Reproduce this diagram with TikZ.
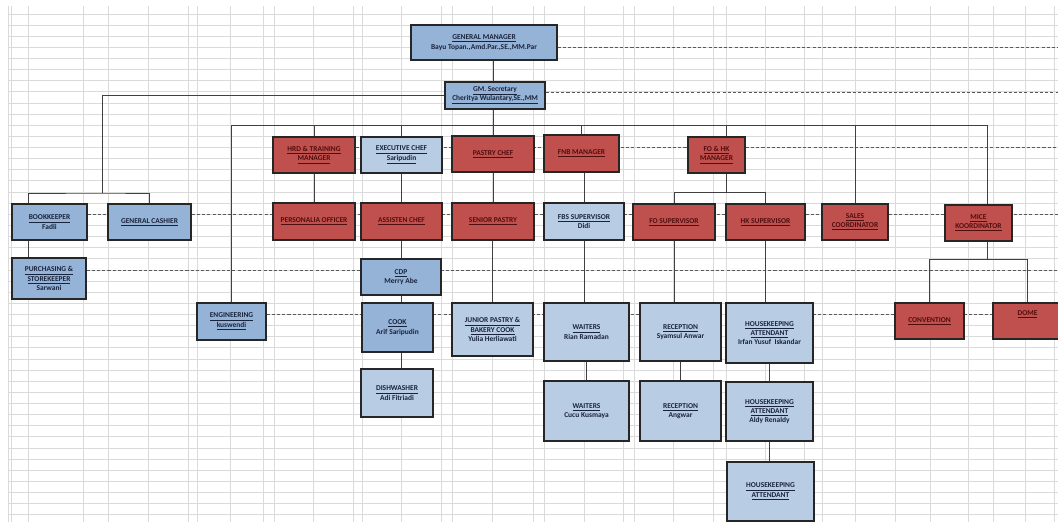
\documentclass[tikz,border=0pt]{standalone}
\usepackage{fontspec}
\setmainfont{Carlito}
\usetikzlibrary{calc}
\pgfdeclarelayer{background}
\pgfsetlayers{background,main}
\definecolor{medblue}{RGB}{149,179,215}
\definecolor{lightblue}{RGB}{184,204,228}
\definecolor{redfill}{RGB}{192,80,77}
\definecolor{redtext}{RGB}{80,14,14}
\definecolor{bluetext}{RGB}{25,35,60}
\definecolor{gridc}{RGB}{218,218,218}

\begin{document}
\begin{tikzpicture}[x=0.025cm, y=-0.025cm,
    box/.style={draw=black!85, line width=0.9pt, inner sep=0pt, align=center,
        font=\fontsize{5.3}{6.6}\selectfont\bfseries},
    mblue/.style={box, fill=medblue, text=bluetext},
    lblue/.style={box, fill=lightblue, text=bluetext},
    rbox/.style={box, fill=redfill, text=redtext},
    sz/.style 2 args={minimum width=#1*0.025cm, minimum height=#2*0.025cm},
    link/.style={draw=black!75, line width=0.7pt},
    dashline/.style={draw=black!65, line width=0.6pt, dash pattern=on 2.2pt off 1.5pt},
    gridline/.style={draw=gridc, line width=0.7pt}]
    \useasboundingbox (0,0) rectangle (1058,522);
    \clip (0,0) rectangle (1058,522);
    \coordinate (rim) at (1058,0);

    \node[mblue, sz={146}{35}] (gm) at (484,42.5) {\underline{GENERAL MANAGER}\\Bayu Topan.,Amd.Par.,SE.,MM.Par};
    \node[mblue, sz={100}{27}] (sec) at (495,95.5) {\underline{GM. Secretary}\\\underline{Cheritya Wulantary,SE.,MM}};

    \node[rbox, sz={82}{36}] (hrd) at (314,155) {\underline{HRD \& TRAINING}\\\underline{MANAGER}};
    \node[lblue, sz={81}{36}] (exec) at (401.5,155) {\underline{EXECUTIVE CHEF}\\\underline{Saripudin}};
    \node[rbox, sz={82}{36}] (pastry) at (493,154) {\underline{PASTRY CHEF}};
    \node[rbox, sz={75}{37}] (fnb) at (581.5,153.5) {\underline{FNB MANAGER}};
    \node[rbox, sz={57}{36}] (fohk) at (716.5,155) {\underline{FO \& HK}\\\underline{MANAGER}};

    \node[mblue, sz={75}{36}] (bookk) at (49.5,222) {\underline{BOOKKEEPER}\\Fadli};
    \node[mblue, sz={83}{36}] (cashier) at (149.5,222) {\underline{GENERAL CASHIER}};
    \node[rbox, sz={82}{37}] (perso) at (314,221.5) {\underline{PERSONALIA OFFICER}};
    \node[rbox, sz={81}{37}] (asschef) at (401.5,221.5) {\underline{ASSISTEN CHEF}};
    \node[rbox, sz={82}{37}] (senior) at (493,221.5) {\underline{SENIOR PASTRY}};
    \node[lblue, sz={80}{37}] (fbs) at (584,221.5) {\underline{FBS SUPERVISOR}\\Didi};
    \node[rbox, sz={82}{36}] (fosup) at (674,222) {\underline{FO SUPERVISOR}};
    \node[rbox, sz={79}{36}] (hksup) at (765.5,222) {\underline{HK SUPERVISOR}};
    \node[rbox, sz={66}{36}] (sales) at (855,222) {\underline{SALES}\\\underline{COORDINATOR}};
    \node[rbox, sz={67}{36}] (mice) at (978.5,223) {\underline{MICE}\\\underline{KOORDINATOR}};

    \node[mblue, sz={74}{41}] (purch) at (49,278.5) {\underline{PURCHASING \&}\\\underline{STOREKEEPER}\\Sarwani};
    \node[mblue, sz={80}{36}] (cdp) at (401,277) {\underline{CDP}\\Merry Abe};

    \node[mblue, sz={69}{37}] (eng) at (231.5,321.5) {\underline{ENGINEERING}\\\underline{kuswendi}};
    \node[mblue, sz={71}{49}] (cook) at (397.5,327.5) {\underline{COOK}\\Arif Saripudin};
    \node[lblue, sz={81}{53}] (junior) at (492.5,329.5) {\underline{JUNIOR PASTRY \&}\\\underline{BAKERY COOK}\\Yulia Herliawati};
    \node[lblue, sz={85}{58}] (wait1) at (586.5,332) {\underline{WAITERS}\\Rian Ramadan};
    \node[lblue, sz={81}{58}] (recep1) at (680.5,332) {\underline{RECEPTION}\\Syamsul Anwar};
    \node[lblue, sz={87}{60}] (hk1) at (769.5,333) {\underline{HOUSEKEEPING}\\\underline{ATTENDANT}\\Irfan Yusuf\ \ Iskandar};
    \node[rbox, sz={69}{36}] (conv) at (929.5,321) {\underline{CONVENTION}};
    \node[rbox, sz={69}{36}, text depth=12pt] (dome) at (1027.5,321) {\underline{DOME}};

    \node[lblue, sz={72}{48}] (dish) at (397,393) {\underline{DISHWASHER}\\Adi Fitriadi};
    \node[lblue, sz={85}{60}] (wait2) at (586.5,411) {\underline{WAITERS}\\Cucu Kusmaya};
    \node[lblue, sz={81}{60}] (recep2) at (680.5,411) {\underline{RECEPTION}\\Angwar};
    \node[lblue, sz={87}{59}] (hk2) at (769.5,411.5) {\underline{HOUSEKEEPING}\\\underline{ATTENDANT}\\Aldy Renaldy};
    \node[lblue, sz={87}{59}] (hk3) at (770.5,491.5) {\underline{HOUSEKEEPING}\\\underline{ATTENDANT}};

    \coordinate (fin) at (102,193);
    \coordinate (busl) at (231.5,125);
    \coordinate (busr) at (987,125);
    \draw[link] (gm.south -| pastry) -- (sec.north -| pastry);
    \draw[link] (sec.south -| pastry) -- (pastry.north);
    \draw[link] (sec.west) -| (fin);
    \draw[link] (bookk.north -| 28,0) |- (fin) -| (cashier.north);
    \draw[link] (bookk.south -| 28,0) -- (purch.north -| 28,0);
    \draw[link] (eng.north) -- (busl) -- (busr) -- (mice.north -| busr);
    \foreach \n in {hrd,exec,fnb,sales}
        \draw[link] (\n.north) -- (\n.north |- busl);
    \draw[link] (fohk.north -| 726,0) -- (busl -| 726,0);
    \draw[link] (fohk.south -| 726,0) -- ++(0,19) coordinate (fobus);
    \draw[link] (fosup.north) |- (fobus) -| (hksup.north);
    \draw[link] (mice.south -| busr) -- ++(0,18) coordinate (micebus);
    \draw[link] (conv.north) |- (micebus) -| (dome.north);

    \draw[link] (hrd) -- (perso);
    \draw[link] (exec) -- (asschef);
    \draw[link] (pastry) -- (senior);
    \draw[link] (fbs.north) -- (fbs.north |- fnb.south);
    \draw[link] (cdp.north) -- (cdp.north |- asschef.south);
    \draw[link] (cdp.south) -- (cdp.south |- cook.north);
    \draw[link] (cook.south -| cdp) -- (dish.north -| cdp);
    \draw[link] (senior.south -| junior) -- (junior.north);
    \draw[link] (fbs.south) -- (fbs.south |- wait1.north);
    \draw[link] (wait1) -- (wait2);
    \draw[link] (fosup.south) -- (fosup.south |- recep1.north);
    \draw[link] (recep1) -- (recep2);
    \draw[link] (hksup.south) -- (hksup.south |- hk1.north);
    \draw[link] (hk1) -- (hk2);
    \draw[link] (hk2.south) -- (hk2.south |- hk3.north);

    \begin{pgfonlayer}{background}
        \fill[white] (0,0) rectangle (rim |- 0,522);
        \foreach \k in {0,...,45}
            \draw[gridline] (8,{14+\k*11.13}) -- (1058,{14+\k*11.13});
        \foreach \gx in {8,11,28,83,108,148,188,197,230,263,274,313,353,362,401,441,452,492,533,544,584,623,634,673,713,726,765,804,822,855,895,930,968,993,1025,1054}
            \draw[gridline] (\gx,6) -- (\gx,522);
        \foreach \a/\yy in {gm/47.5,sec/92,hrd/147,bookk/214,purch/270,eng/314}
            \draw[dashline] (\a.east |- 0,\yy) -- (rim |- 0,\yy);
    \end{pgfonlayer}
\end{tikzpicture}
\end{document}
